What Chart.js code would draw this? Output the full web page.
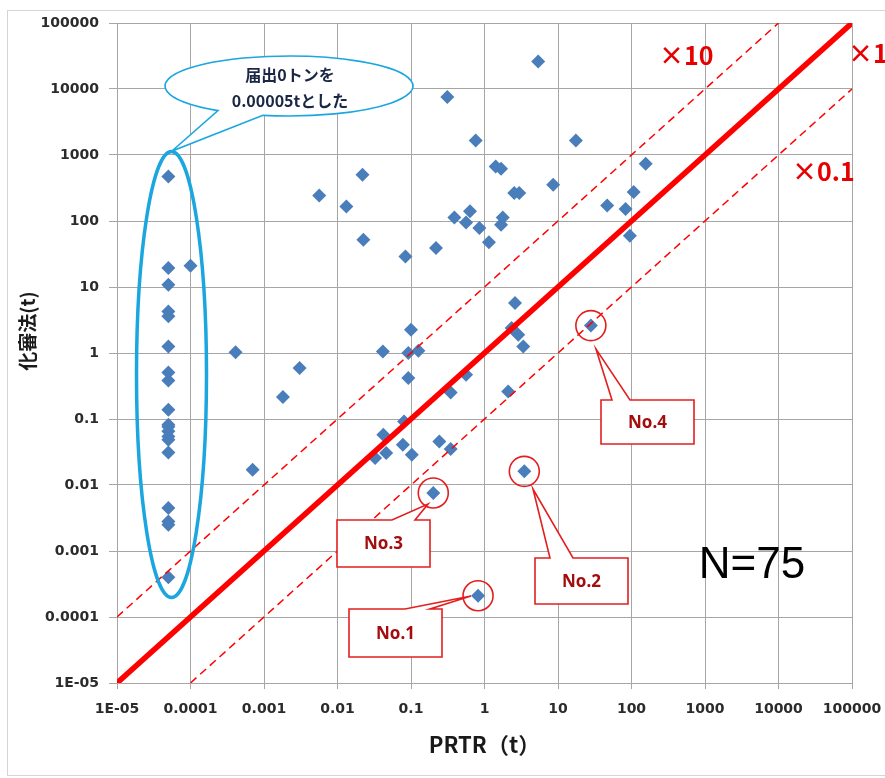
<!DOCTYPE html>
<html lang="ja">
<head>
<meta charset="utf-8">
<title>PRTR vs 化審法</title>
<script src="https://cdn.jsdelivr.net/npm/chart.js@4.4.1/dist/chart.umd.min.js"></script>
<style>
  html, body { margin: 0; padding: 0; background: #fff; }
  #wrap { position: relative; width: 885px; height: 778px; }
</style>
</head>
<body>
<div id="wrap"><canvas id="chart"></canvas></div>
<script>
// decade ticks, both axes
const tickValues = [1e-5, 1e-4, 1e-3, 1e-2, 1e-1, 1, 10, 100, 1000, 10000, 100000];
const tickLabels = ['1E-05', '0.0001', '0.001', '0.01', '0.1', '1', '10', '100', '1000', '10000', '100000'];

// PRTR (t) on x, 化審法 (t) on y -- 75 substances
// first 19: reported 0 t in PRTR, plotted at 0.00005 t
const prtrValues = [
  0.00005, 0.00005, 0.00005, 0.00005, 0.00005, 0.00005, 0.00005, 0.00005, 0.00005, 0.00005,
  0.00005, 0.00005, 0.00005, 0.00005, 0.00005, 0.00005, 0.00005, 0.00005, 0.00005,
  0.0001, 0.00041, 0.00305, 0.00181, 0.0007, 0.00564, 0.0132, 0.0219, 0.0225, 0.084,
  0.219, 0.1, 0.0414, 0.092, 0.126, 0.092, 0.0805, 0.042, 0.0775, 0.1026,
  0.046, 0.0325, 0.243, 0.347, 0.561, 0.347, 0.201, 0.817, 3.48, 28,
  2.6, 2.34, 2.88, 3.37, 2.1, 0.312, 5.38, 0.759, 1.42, 1.68,
  2.54, 2.97, 0.389, 0.635, 0.561, 0.851, 1.77, 1.68, 1.15, 17.5,
  8.6, 156, 46.7, 83, 107, 95
];
const kashinValues = [
  474, 19.4, 10.8, 4.27, 3.59, 1.26, 0.508, 0.384, 0.138, 0.082,
  0.076, 0.065, 0.0545, 0.0485, 0.0312, 0.0045, 0.0028, 0.0025, 0.0004,
  21, 1.03, 0.593, 0.215, 0.017, 244, 166, 503, 52, 29,
  39, 2.25, 1.05, 1.0, 1.08, 0.418, 0.092, 0.0578, 0.0407, 0.0288,
  0.0305, 0.0256, 0.0458, 0.0351, 0.469, 0.253, 0.00757, 0.00021, 0.0161, 2.6,
  5.73, 2.39, 1.89, 1.26, 0.262, 7570, 26200, 1664, 671, 619,
  266, 266, 113, 140, 95, 78, 113, 88, 47.5, 1664,
  355, 738, 171, 152, 275, 60
];

// reference lines: x1, x10, x0.1
const lineX1 = [1e-5, 1e5];
const lineY1 = [1e-5, 1e5];
const lineX10 = [1e-5, 1e4];
const lineY10 = [1e-4, 1e5];
const lineX01 = [1e-4, 1e5];
const lineY01 = [1e-5, 1e4];

// flagged substances
const calloutNames = ['No.1', 'No.2', 'No.3', 'No.4'];
const calloutPrtr = [0.817, 3.48, 0.201, 28];
const calloutKashin = [0.00021, 0.0161, 0.00757, 2.6];

const RED = '#ff0000';
const GRID = '#a6a6a6';

const toPts = (xs, ys) => xs.map((x, i) => ({ x, y: ys[i] }));

const overlay = {
  id: 'overlay',
  beforeDraw(chart) {
    const ctx = chart.ctx;
    ctx.save();
    ctx.fillStyle = '#fff';
    ctx.fillRect(0, 0, chart.width, chart.height);
    ctx.strokeStyle = '#d4d4d4';
    ctx.lineWidth = 1;
    ctx.strokeRect(7.5, 10.5, 890, 765);
    ctx.restore();
  },
  afterDraw(chart) {
    const ctx = chart.ctx;
    const xs = chart.scales.x, ys = chart.scales.y;
    ctx.save();

    // y axis title
    ctx.save();
    ctx.translate(28, 331);
    ctx.rotate(-Math.PI / 2);
    ctx.font = 'bold 19px "Noto Sans CJK JP"';
    ctx.fillStyle = '#1a1a1a';
    ctx.textAlign = 'center';
    ctx.textBaseline = 'middle';
    ctx.fillText('化審法(t)', 0, 0);
    ctx.restore();

    // blue ellipse round the 0 t column
    ctx.strokeStyle = '#1ba6e0';
    ctx.lineWidth = 3.5;
    ctx.beginPath();
    ctx.ellipse(171.5, 374.5, 35, 223, 0, 0, Math.PI * 2);
    ctx.stroke();

    // speech balloon
    const cx = 289, cy = 86, rx = 124, ry = 30;
    const a1 = Math.atan2(0.82, -0.573), a2 = Math.atan2(0.978, -0.21);
    ctx.beginPath();
    ctx.ellipse(cx, cy, rx, ry, 0, a1, a2 + Math.PI * 2);
    ctx.lineTo(172, 151);
    ctx.closePath();
    ctx.fillStyle = '#fff';
    ctx.fill();
    ctx.lineWidth = 1.6;
    ctx.stroke();
    ctx.fillStyle = '#1a2744';
    ctx.font = 'bold 16px "Noto Sans CJK JP"';
    ctx.textAlign = 'center';
    ctx.textBaseline = 'middle';
    ctx.fillText('届出0トンを', 290, 75);
    ctx.fillText('0.00005tとした', 290, 101);

    // callouts
    const boxes = [
      { x: 349, y: 609, w: 93, h: 48, b1: 405, b2: 430, tip: [471, 596] },
      { x: 535, y: 558, w: 93, h: 46, b1: 550, b2: 573, tip: [533, 489] },
      { x: 337, y: 520, w: 93, h: 47, b1: 392, b2: 415, tip: [428, 504] },
      { x: 601, y: 400, w: 93, h: 44, b1: 612, b2: 630, tip: [596, 349] }
    ];
    ctx.strokeStyle = '#e41e1e';
    ctx.lineWidth = 1.6;
    boxes.forEach((b, i) => {
      ctx.beginPath();
      ctx.moveTo(b.x, b.y);
      ctx.lineTo(b.b1, b.y);
      ctx.lineTo(b.tip[0], b.tip[1]);
      ctx.lineTo(b.b2, b.y);
      ctx.lineTo(b.x + b.w, b.y);
      ctx.lineTo(b.x + b.w, b.y + b.h);
      ctx.lineTo(b.x, b.y + b.h);
      ctx.closePath();
      ctx.fillStyle = '#fff';
      ctx.fill();
      ctx.stroke();
      ctx.fillStyle = '#a30d0d';
      ctx.font = 'bold 17px "Noto Sans"';
      ctx.fillText(calloutNames[i], b.x + b.w / 2, b.y + b.h / 2 + 1);

      const px = xs.getPixelForValue(calloutPrtr[i]);
      const py = ys.getPixelForValue(calloutKashin[i]);
      ctx.beginPath();
      ctx.arc(px, py, 15, 0, Math.PI * 2);
      ctx.stroke();
    });

    // ratio labels
    ctx.fillStyle = '#e60000';
    ctx.font = 'bold 25px "Noto Sans CJK JP"';
    ctx.textAlign = 'left';
    ctx.fillText('×10', 659, 55);
    ctx.fillText('×1', 848, 53);
    ctx.fillText('×0.1', 792, 171);

    ctx.fillStyle = '#000';
    ctx.font = '44px "Liberation Sans"';
    ctx.textAlign = 'center';
    ctx.fillText('N=75', 752, 566);
    ctx.restore();
  }
};

const logAxis = (extra) => Object.assign({
  type: 'logarithmic',
  min: 1e-5,
  max: 1e5,
  afterBuildTicks: (scale) => { scale.ticks = tickValues.map(v => ({ value: v })); },
  border: { color: GRID, width: 1 },
  grid: { color: GRID, lineWidth: 1, tickColor: GRID }
}, extra);

new Chart(document.getElementById('chart'), {
  type: 'scatter',
  data: {
    datasets: [
      {
        label: 'substances',
        data: toPts(prtrValues, kashinValues),
        pointStyle: 'rectRot',
        pointRadius: 7,
        backgroundColor: '#4a7ebb',
        borderColor: '#4a7ebb',
        borderWidth: 0,
        order: 2
      },
      {
        label: 'x1',
        data: toPts(lineX1, lineY1),
        showLine: true,
        borderColor: RED,
        borderWidth: 5.5,
        pointRadius: 0,
        order: 1
      },
      {
        label: 'x10',
        data: toPts(lineX10, lineY10),
        showLine: true,
        borderColor: RED,
        borderWidth: 1.5,
        borderDash: [8, 5],
        pointRadius: 0,
        order: 1
      },
      {
        label: 'x0.1',
        data: toPts(lineX01, lineY01),
        showLine: true,
        borderColor: RED,
        borderWidth: 1.5,
        borderDash: [8, 5],
        pointRadius: 0,
        order: 1
      }
    ]
  },
  options: {
    responsive: true,
    maintainAspectRatio: false,
    devicePixelRatio: 1,
    animation: false,
    layout: { padding: { left: 0, top: 23, right: 33, bottom: 0 } },
    plugins: { legend: { display: false }, tooltip: { enabled: false } },
    scales: {
      x: logAxis({
        position: 'bottom',
        afterFit: (scale) => {
          scale.height = 95;
          scale.paddingLeft = 0;
          scale.paddingRight = 0;
        },
        grid: { color: GRID, lineWidth: 1, tickColor: GRID, tickLength: 6 },
        ticks: {
          autoSkip: false,
          maxRotation: 0,
          padding: 12,
          color: '#2b2b2b',
          font: { family: 'DejaVu Sans', size: 14, weight: 'bold' },
          callback: (v) => tickLabels[tickValues.indexOf(v)]
        },
        title: {
          display: true,
          text: 'PRTR（t）',
          color: '#1a1a1a',
          font: { family: 'Noto Sans CJK JP', size: 22, weight: 'bold' },
          padding: { top: 0, bottom: 20 }
        }
      }),
      y: logAxis({
        position: 'left',
        afterFit: (scale) => {
          scale.width = 117;
          scale.paddingTop = 0;
          scale.paddingBottom = 0;
        },
        grid: { color: GRID, lineWidth: 1, tickColor: GRID, tickLength: 8 },
        ticks: {
          autoSkip: false,
          padding: 10,
          color: '#2b2b2b',
          font: { family: 'DejaVu Sans', size: 14, weight: 'bold' },
          callback: (v) => tickLabels[tickValues.indexOf(v)]
        }
      })
    }
  },
  plugins: [overlay]
});
</script>
</body>
</html>
